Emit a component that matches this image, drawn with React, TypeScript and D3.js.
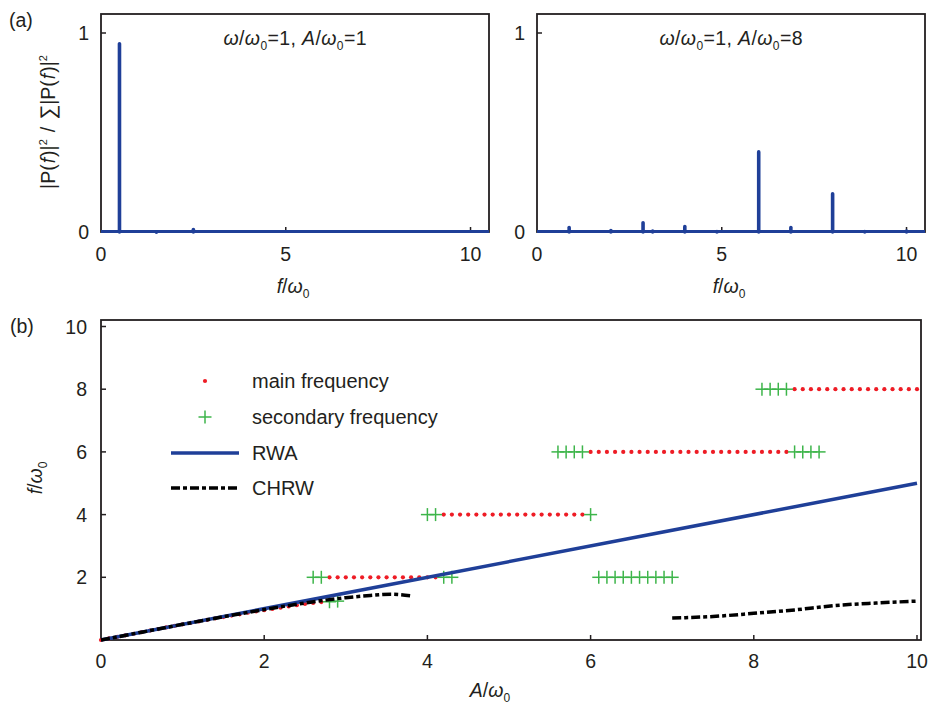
import React from "react";
import * as d3 from "d3";

// ---------- Data ----------
const specXTicks = [0, 5, 10];
const specYTicks = [0, 1];

const specAFreq = [0.5, 1.5, 2.5];
const specAPow = [0.953, 0.006, 0.02];

const specBFreq = [0.87, 2.0, 2.87, 3.13, 4.0, 4.87, 6.0, 6.87, 8.0, 8.87, 10.0];
const specBPow = [0.03, 0.015, 0.054, 0.012, 0.035, 0.01, 0.41, 0.03, 0.2, 0.01, 0.012];

const mainDiagA = [0, 0.1, 0.2, 0.3, 0.4, 0.5, 0.6, 0.7, 0.8, 0.9, 1.0, 1.1, 1.2, 1.3, 1.4, 1.5, 1.6, 1.7, 1.8, 1.9, 2.0, 2.1, 2.2, 2.3, 2.4, 2.5, 2.6, 2.7];
const mainDiagF = [0, 0.05, 0.1, 0.15, 0.2, 0.25, 0.3, 0.35, 0.4, 0.45, 0.5, 0.55, 0.59, 0.64, 0.69, 0.73, 0.78, 0.82, 0.87, 0.91, 0.95, 0.99, 1.03, 1.07, 1.11, 1.15, 1.18, 1.21];
const main2A = [2.8, 2.9, 3.0, 3.1, 3.2, 3.3, 3.4, 3.5, 3.6, 3.7, 3.8, 3.9, 4.0, 4.1];
const main4A = [4.2, 4.3, 4.4, 4.5, 4.6, 4.7, 4.8, 4.9, 5.0, 5.1, 5.2, 5.3, 5.4, 5.5, 5.6, 5.7, 5.8, 5.9];
const main6A = [6.0, 6.1, 6.2, 6.3, 6.4, 6.5, 6.6, 6.7, 6.8, 6.9, 7.0, 7.1, 7.2, 7.3, 7.4, 7.5, 7.6, 7.7, 7.8, 7.9, 8.0, 8.1, 8.2, 8.3, 8.4];
const main8A = [8.5, 8.6, 8.7, 8.8, 8.9, 9.0, 9.1, 9.2, 9.3, 9.4, 9.5, 9.6, 9.7, 9.8, 9.9, 10.0];

const secLowA = [2.8, 2.9];
const secLowF = [1.22, 1.24];
const sec2A = [2.6, 2.7, 4.2, 4.3, 6.1, 6.2, 6.3, 6.4, 6.5, 6.6, 6.7, 6.8, 6.9, 7.0];
const sec4A = [4.0, 4.1, 6.0];
const sec6A = [5.6, 5.7, 5.8, 5.9, 8.5, 8.6, 8.7, 8.8];
const sec8A = [8.1, 8.2, 8.3, 8.4];

const rwaA = [0, 10];
const rwaF = [0, 5];

const chrw1A = [0, 0.5, 1.0, 1.5, 2.0, 2.5, 3.0, 3.3, 3.55, 3.8];
const chrw1F = [0, 0.25, 0.5, 0.74, 0.97, 1.18, 1.35, 1.42, 1.46, 1.41];
const chrw2A = [7.0, 7.5, 8.0, 8.5, 9.0, 9.5, 10.0];
const chrw2F = [0.7, 0.75, 0.85, 0.96, 1.1, 1.18, 1.24];

const bXTicks = [0, 2, 4, 6, 8, 10];
const bYTicks = [2, 4, 6, 8, 10];

const legendItems = ["main frequency", "secondary frequency", "RWA", "CHRW"];

// ---------- Styles ----------
const FONT = "'Liberation Sans', Arial, Helvetica, sans-serif";
const BLUE = "#1f3f98";
const RED = "#ee1c25";
const GREEN = "#3db54a";
const FRAME = "#231f20";
const TXT = "#231f20";

function SpecPanel({ x0, x1, freq, pow, note }: any) {
  const x = d3.scaleLinear().domain([0, 10.5]).range([x0, x1]);
  const y = d3.scaleLinear().domain([0, 1]).range([232, 33]);
  const top = 14;
  const bottom = 232;
  return (
    <g>
      <rect x={x0} y={top} width={x1 - x0} height={bottom - top} fill="none" stroke={FRAME} strokeWidth={1.8} />
      {specXTicks.map((t) => (
        <g key={"xt" + t}>
          {t > 0 && <line x1={x(t)} x2={x(t)} y1={bottom} y2={bottom - 5} stroke={FRAME} strokeWidth={1.5} />}
          <text x={x(t)} y={261} textAnchor="middle" fontFamily={FONT} fontSize={19.5} fill={TXT}>{t}</text>
        </g>
      ))}
      {specYTicks.map((t) => (
        <g key={"yt" + t}>
          {t > 0 && <line x1={x0} x2={x0 + 5} y1={y(t)} y2={y(t)} stroke={FRAME} strokeWidth={1.5} />}
          <text x={x0 - 12} y={y(t)} dy="0.36em" textAnchor="end" fontFamily={FONT} fontSize={19.5} fill={TXT}>{t}</text>
        </g>
      ))}
      <line x1={x(0)} x2={x1} y1={y(0) - 0.5} y2={y(0) - 0.5} stroke={BLUE} strokeWidth={3.2} />
      {freq.map((f: number, i: number) => (
        <line key={"p" + i} x1={x(f)} x2={x(f)} y1={y(0)} y2={y(pow[i]) + 1.5} stroke={BLUE} strokeWidth={3.6} strokeLinecap="round" />
      ))}
      <text x={(x0 + x1) / 2} y={45} textAnchor="middle" fontFamily={FONT} fontSize={19.5} fill={TXT} textLength={143} lengthAdjust="spacing">
        <tspan fontStyle="italic">ω</tspan>
        <tspan>/</tspan>
        <tspan fontStyle="italic">ω</tspan>
        <tspan fontSize={12} dy={5}>0</tspan>
        <tspan dy={-5}>=1, </tspan>
        <tspan fontStyle="italic">A</tspan>
        <tspan>/</tspan>
        <tspan fontStyle="italic">ω</tspan>
        <tspan fontSize={12} dy={5}>0</tspan>
        <tspan dy={-5}>{note}</tspan>
      </text>
      <text x={(x0 + x1) / 2 - 2} y={293} textAnchor="middle" fontFamily={FONT} fontSize={19.5} fill={TXT}>
        <tspan fontStyle="italic">f</tspan>
        <tspan>/</tspan>
        <tspan fontStyle="italic">ω</tspan>
        <tspan fontSize={12} dy={5}>0</tspan>
      </text>
    </g>
  );
}

function Cross({ cx, cy }: { cx: number; cy: number }) {
  const h = 6.5;
  return (
    <g stroke={GREEN} strokeWidth={1.5}>
      <line x1={cx - h} x2={cx + h} y1={cy} y2={cy} />
      <line x1={cx} x2={cx} y1={cy - h} y2={cy + h} />
    </g>
  );
}

export default function App() {
  const bx = d3.scaleLinear().domain([0, 10]).range([101, 917]);
  const by = d3.scaleLinear().domain([0, 10]).range([640, 326.5]);
  const bTop = 320;
  const bRight = 921;

  const mainPts: [number, number][] = [
    ...mainDiagA.map((a, i) => [a, mainDiagF[i]] as [number, number]),
    ...main2A.map((a) => [a, 2] as [number, number]),
    ...main4A.map((a) => [a, 4] as [number, number]),
    ...main6A.map((a) => [a, 6] as [number, number]),
    ...main8A.map((a) => [a, 8] as [number, number]),
  ];
  const secPts: [number, number][] = [
    ...secLowA.map((a, i) => [a, secLowF[i]] as [number, number]),
    ...sec2A.map((a) => [a, 2] as [number, number]),
    ...sec4A.map((a) => [a, 4] as [number, number]),
    ...sec6A.map((a) => [a, 6] as [number, number]),
    ...sec8A.map((a) => [a, 8] as [number, number]),
  ];

  const line = d3
    .line<[number, number]>()
    .x((d) => bx(d[0]))
    .y((d) => by(d[1]));
  const curve = d3
    .line<[number, number]>()
    .x((d) => bx(d[0]))
    .y((d) => by(d[1]))
    .curve(d3.curveMonotoneX);

  const rwa = rwaA.map((a, i) => [a, rwaF[i]] as [number, number]);
  const chrw1 = chrw1A.map((a, i) => [a, chrw1F[i]] as [number, number]);
  const chrw2 = chrw2A.map((a, i) => [a, chrw2F[i]] as [number, number]);
  const dash = "9,3,4,3";

  const legY = [381, 417, 453, 488];

  return (
    <svg width={930} height={711} style={{ position: "absolute", left: 0, top: 0, background: "#fff" }}>
      <rect x={0} y={0} width={930} height={711} fill="#fff" />
      <text x={9} y={27} fontFamily={FONT} fontSize={19.5} fill={TXT}>(a)</text>
      <text x={10} y={333} fontFamily={FONT} fontSize={19.5} fill={TXT}>(b)</text>

      <SpecPanel x0={101} x1={489} freq={specAFreq} pow={specAPow} note="=1" />
      <SpecPanel x0={537} x1={925} freq={specBFreq} pow={specBPow} note="=8" />

      {/* top-left y label */}
      <text transform="rotate(-90 55 122)" x={55} y={122} textAnchor="middle" fontFamily={FONT} fontSize={19.5} fill={TXT}>
        <tspan>|P(</tspan>
        <tspan fontStyle="italic" dx={1}>f</tspan>
        <tspan dx={1}>)|</tspan>
        <tspan fontSize={11} dy={-8}>2</tspan>
        <tspan dy={8} dx={7}>/</tspan>
        <tspan fontSize={21} dx={7}>∑</tspan>
        <tspan>|P(</tspan>
        <tspan fontStyle="italic" dx={1}>f</tspan>
        <tspan dx={1}>)|</tspan>
        <tspan fontSize={11} dy={-8}>2</tspan>
      </text>

      {/* bottom panel */}
      <rect x={101} y={bTop} width={bRight - 101} height={640 - bTop} fill="none" stroke={FRAME} strokeWidth={1.8} />
      {bXTicks.map((t) => (
        <g key={"bx" + t}>
          {t > 0 && <line x1={bx(t)} x2={bx(t)} y1={640} y2={635} stroke={FRAME} strokeWidth={1.5} />}
          <text x={bx(t)} y={668} textAnchor="middle" fontFamily={FONT} fontSize={19.5} fill={TXT}>{t}</text>
        </g>
      ))}
      {bYTicks.map((t) => (
        <g key={"by" + t}>
          <line x1={101} x2={106} y1={by(t)} y2={by(t)} stroke={FRAME} strokeWidth={1.5} />
          <text x={87} y={by(t)} dy="0.36em" textAnchor="end" fontFamily={FONT} fontSize={19.5} fill={TXT}>{t}</text>
        </g>
      ))}

      {mainPts.map((d, i) => (
        <circle key={"m" + i} cx={bx(d[0])} cy={by(d[1])} r={2.1} fill={RED} />
      ))}
      {secPts.map((d, i) => (
        <Cross key={"s" + i} cx={bx(d[0])} cy={by(d[1])} />
      ))}
      <path d={line(rwa) || ""} fill="none" stroke={BLUE} strokeWidth={3.5} />
      <path d={curve(chrw1) || ""} fill="none" stroke="#000" strokeWidth={3.5} strokeDasharray={dash} />
      <path d={curve(chrw2) || ""} fill="none" stroke="#000" strokeWidth={3.5} strokeDasharray={dash} />

      {/* legend */}
      <circle cx={205} cy={legY[0]} r={2.1} fill={RED} />
      <Cross cx={205} cy={legY[1]} />
      <line x1={171} x2={239} y1={legY[2]} y2={legY[2]} stroke={BLUE} strokeWidth={3.5} />
      <line x1={171} x2={239} y1={legY[3]} y2={legY[3]} stroke="#000" strokeWidth={3.5} strokeDasharray={dash} />
      {legendItems.map((t, i) => (
        <text key={t} x={252} y={legY[i]} dy="0.36em" fontFamily={FONT} fontSize={20} fill={TXT}>{t}</text>
      ))}

      {/* axis labels */}
      <text x={490} y={697} textAnchor="middle" fontFamily={FONT} fontSize={19.5} fill={TXT}>
        <tspan fontStyle="italic">A</tspan>
        <tspan>/</tspan>
        <tspan fontStyle="italic">ω</tspan>
        <tspan fontSize={12} dy={5}>0</tspan>
      </text>
      <text transform="rotate(-90 42 478)" x={42} y={478} textAnchor="middle" fontFamily={FONT} fontSize={19.5} fill={TXT}>
        <tspan fontStyle="italic">f</tspan>
        <tspan>/</tspan>
        <tspan fontStyle="italic">ω</tspan>
        <tspan fontSize={12} dy={5}>0</tspan>
      </text>
    </svg>
  );
}
